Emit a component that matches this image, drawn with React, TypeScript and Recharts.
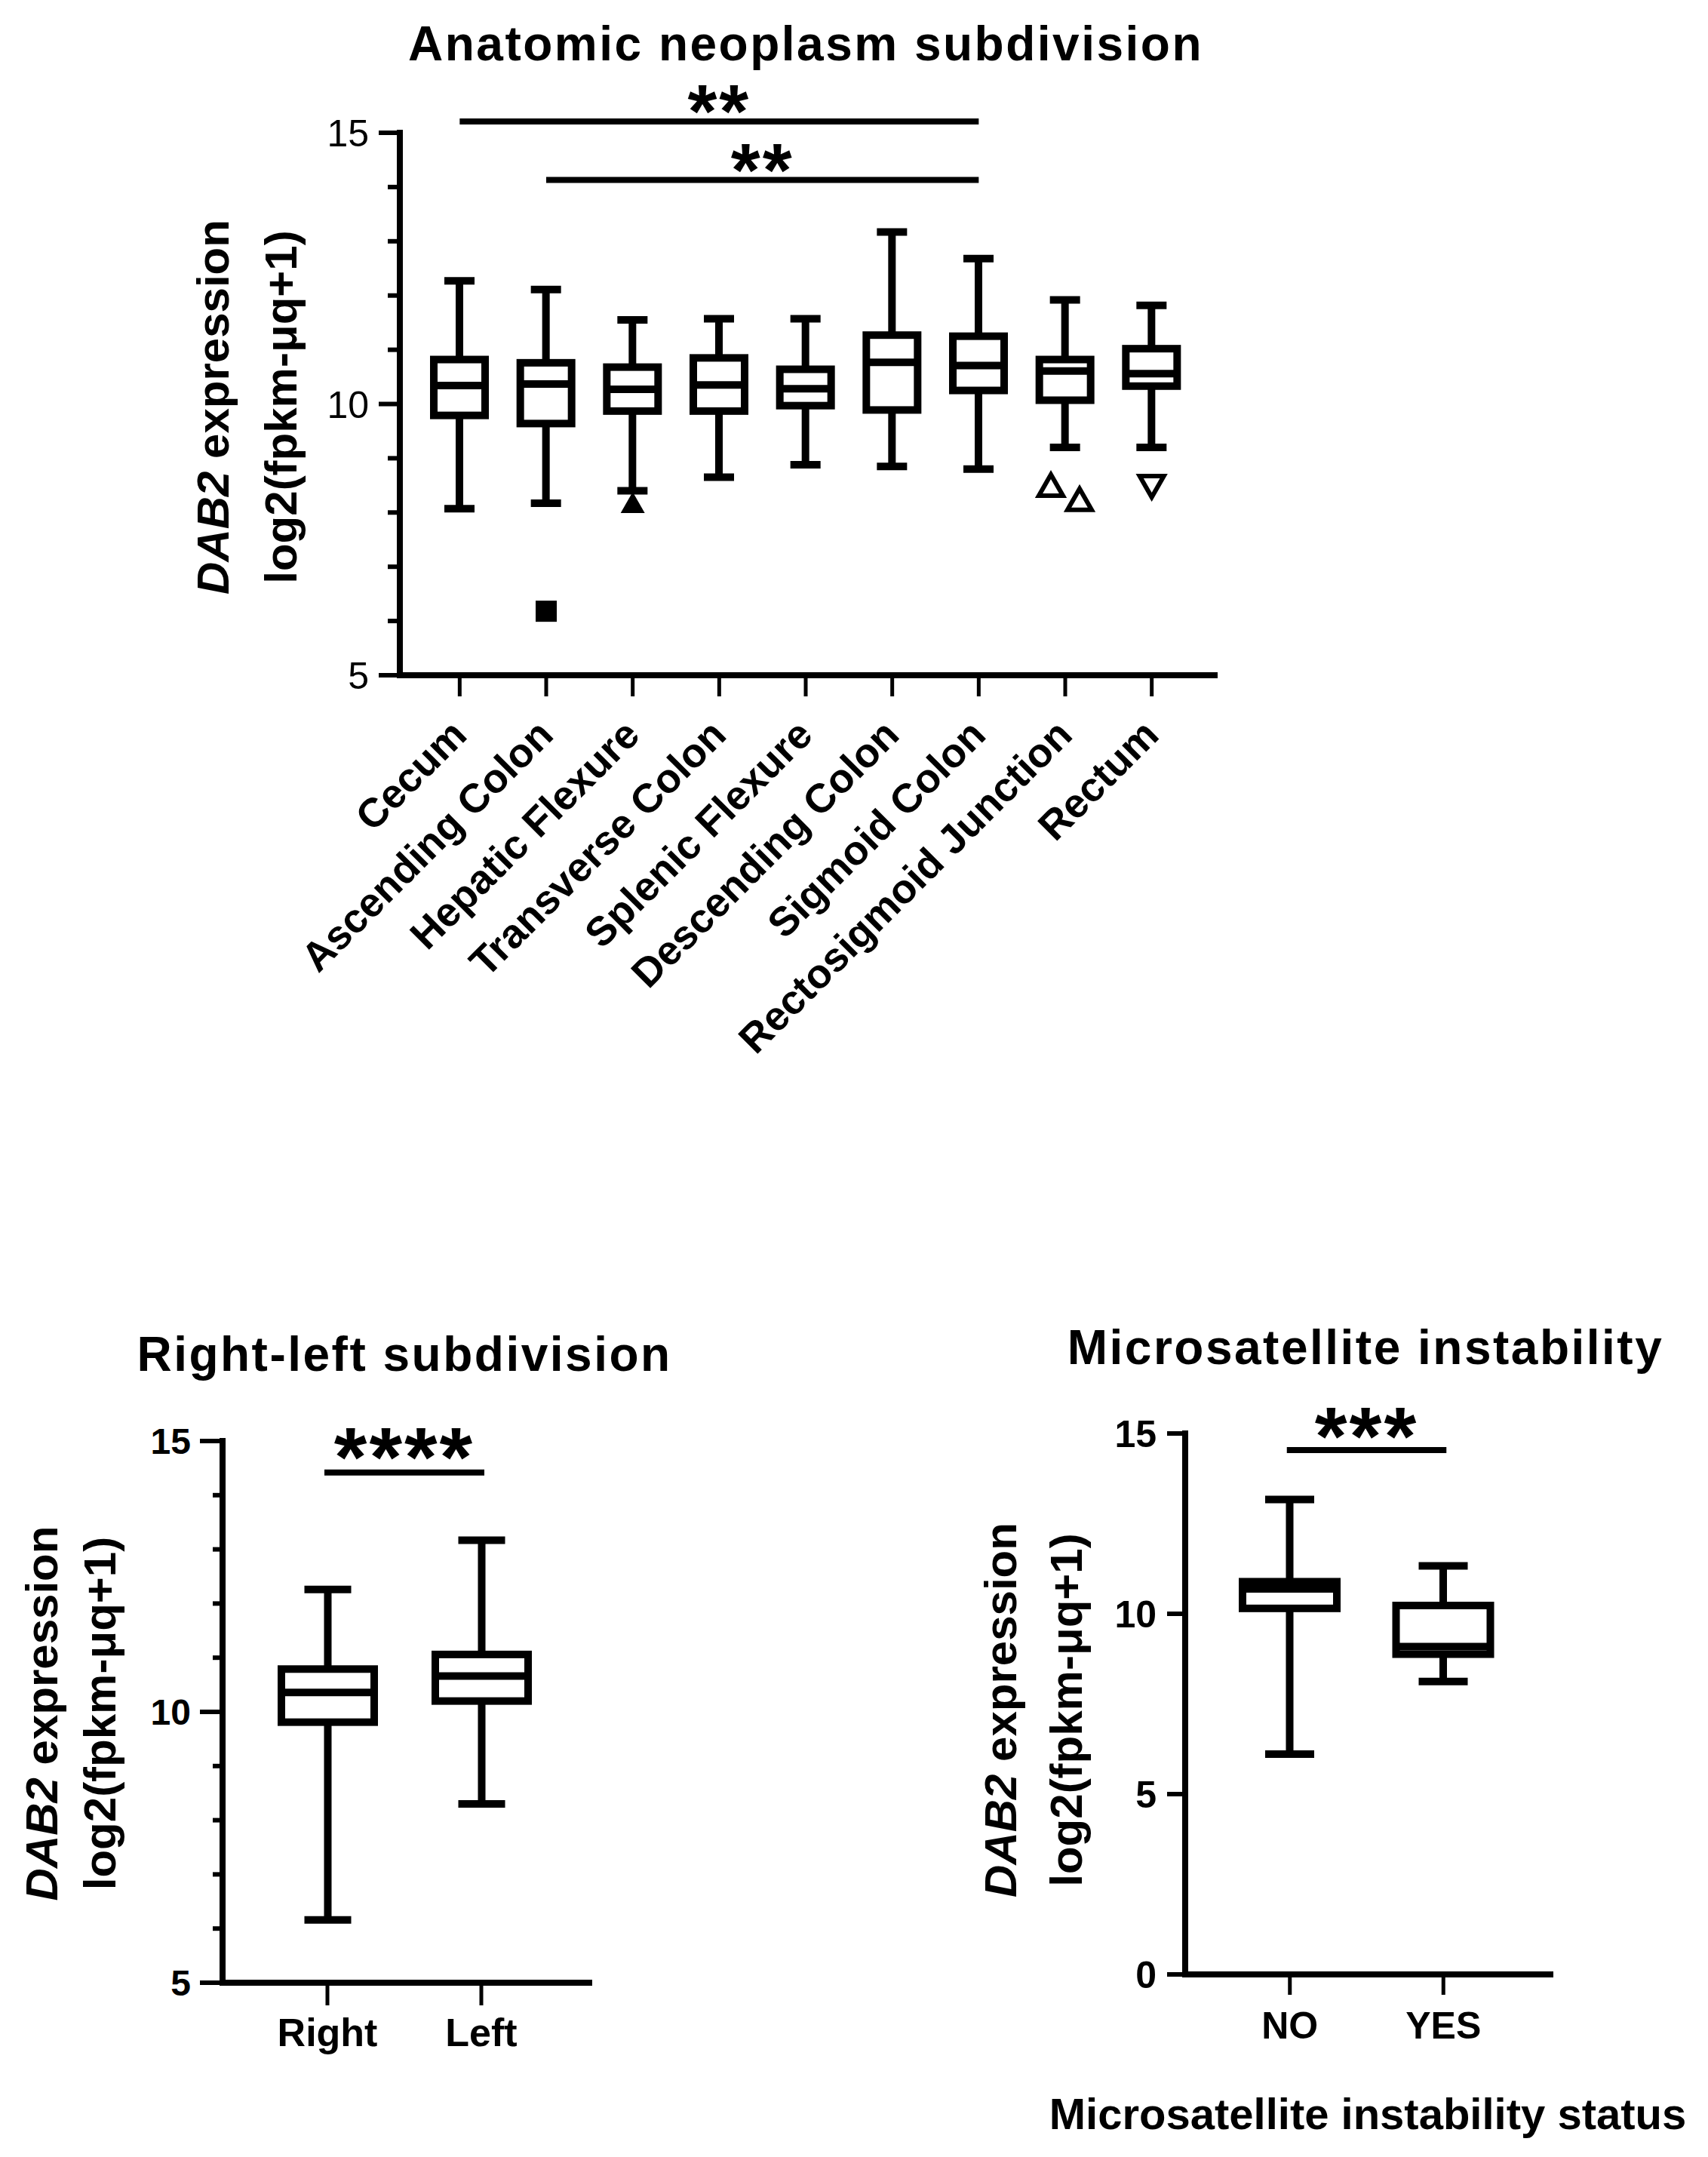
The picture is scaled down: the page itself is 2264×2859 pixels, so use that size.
import React from 'react';
import { ComposedChart, Bar, Scatter, XAxis, YAxis, ReferenceLine } from 'recharts';

const FONT = '"Liberation Sans", Arial, Helvetica, sans-serif';
const INK = '#000000';

// ---------- Anatomic neoplasm subdivision ----------
const siteCategories = [
  'Cecum',
  'Ascending Colon',
  'Hepatic Flexure',
  'Transverse Colon',
  'Splenic Flexure',
  'Descending Colon',
  'Sigmoid Colon',
  'Rectosigmoid Junction',
  'Rectum',
];
const siteMin = [8.07, 8.17, 8.4, 8.65, 8.88, 8.85, 8.8, 9.2, 9.2];
const siteQ1 = [9.79, 9.64, 9.87, 9.87, 9.97, 9.89, 10.25, 10.07, 10.33];
const siteMedian = [10.34, 10.37, 10.27, 10.35, 10.28, 10.77, 10.71, 10.61, 10.56];
const siteQ3 = [10.82, 10.76, 10.68, 10.85, 10.64, 11.27, 11.25, 10.82, 11.02];
const siteMax = [12.27, 12.11, 11.55, 11.57, 11.57, 13.17, 12.68, 11.92, 11.82];
const siteOutlierA = [null, 6.18, 8.17, null, null, null, null, 8.49, 8.49];
const siteOutlierB = [null, null, null, null, null, null, null, 8.23, null];
const siteYTicks = [5, 6, 7, 8, 9, 10, 11, 12, 13, 14, 15];
const siteYLabels = [5, 10, 15];
const siteSignificance = [
  { from: 'Cecum', to: 'Sigmoid Colon', y: 15.21, stars: '**' },
  { from: 'Ascending Colon', to: 'Sigmoid Colon', y: 14.13, stars: '**' },
];

// ---------- Right-left subdivision ----------
const sideCategories = ['Right', 'Left'];
const sideMin = [6.16, 8.3];
const sideQ1 = [9.81, 10.2];
const sideMedian = [10.36, 10.66];
const sideQ3 = [10.79, 11.06];
const sideMax = [12.26, 13.17];
const sideYTicks = [5, 6, 7, 8, 9, 10, 11, 12, 13, 14, 15];
const sideYLabels = [5, 10, 15];
const sideSignificance = [{ from: 'Right', to: 'Left', y: 14.42, stars: '****' }];

// ---------- Microsatellite instability ----------
const msiCategories = ['NO', 'YES'];
const msiMin = [6.11, 8.12];
const msiQ1 = [10.15, 8.88];
const msiMedian = [10.69, 9.09];
const msiQ3 = [10.89, 10.23];
const msiMax = [13.17, 11.33];
const msiYTicks = [0, 5, 10, 15];
const msiYLabels = [0, 5, 10, 15];
const msiSignificance = [{ from: 'NO', to: 'YES', y: 14.54, stars: '***' }];

// marker style per category (GraphPad-like symbols)
const outlierMarker: Record<string, string> = {
  'Ascending Colon': 'square',
  'Hepatic Flexure': 'triangleFilled',
  'Rectosigmoid Junction': 'triangleOpen',
  Rectum: 'triangleDownOpen',
};
const outlierShift: Record<string, number[]> = {
  'Rectosigmoid Junction': [-19, 19],
};

function buildRows(cats: string[], mins: number[], q1s: number[], meds: number[], q3s: number[], maxs: number[], oa?: (number | null)[], ob?: (number | null)[]) {
  return cats.map((cat, i) => ({
    cat,
    min: mins[i],
    q1: q1s[i],
    med: meds[i],
    q3: q3s[i],
    max: maxs[i],
    oa: oa ? oa[i] : null,
    ob: ob ? ob[i] : null,
  }));
}

const siteRows = buildRows(siteCategories, siteMin, siteQ1, siteMedian, siteQ3, siteMax, siteOutlierA, siteOutlierB);
const sideRows = buildRows(sideCategories, sideMin, sideQ1, sideMedian, sideQ3, sideMax);
const msiRows = buildRows(msiCategories, msiMin, msiQ1, msiMedian, msiQ3, msiMax);

const boxRange = (d: any) => [d.min, d.max];

function BoxShape(props: any) {
  const { x, y, width, height, payload, sw, capW } = props;
  if (!payload || x == null || y == null) return null;
  const top = Math.min(y, y + height);
  const bottom = Math.max(y, y + height);
  const span = payload.max - payload.min;
  const ppu = span > 0 ? (bottom - top) / span : 0;
  const py = (v: number) => bottom - (v - payload.min) * ppu;
  const cx = x + width / 2;
  const yq3 = py(payload.q3);
  const yq1 = py(payload.q1);
  const ym = py(payload.med);
  return (
    <g>
      <line x1={cx} x2={cx} y1={top} y2={yq3} stroke={INK} strokeWidth={sw} />
      <line x1={cx} x2={cx} y1={yq1} y2={bottom} stroke={INK} strokeWidth={sw} />
      <line x1={cx - capW / 2} x2={cx + capW / 2} y1={top} y2={top} stroke={INK} strokeWidth={sw} />
      <line x1={cx - capW / 2} x2={cx + capW / 2} y1={bottom} y2={bottom} stroke={INK} strokeWidth={sw} />
      <rect x={x + sw / 2} y={yq3} width={width - sw} height={yq1 - yq3} fill="#ffffff" stroke={INK} strokeWidth={sw} />
      <line x1={x + sw / 2} x2={x + width - sw / 2} y1={ym} y2={ym} stroke={INK} strokeWidth={sw} />
    </g>
  );
}

function OutlierShape(props: any) {
  const { cx, cy, payload, series } = props;
  if (cx == null || cy == null || !isFinite(cx) || !isFinite(cy) || !payload) return <g />;
  const kind = outlierMarker[payload.cat] || 'square';
  const shift = outlierShift[payload.cat] ? outlierShift[payload.cat][series] : 0;
  const px = cx + shift;
  if (kind === 'square') {
    return <rect x={px - 14} y={cy - 14} width={28} height={28} fill={INK} />;
  }
  if (kind === 'triangleFilled') {
    return <path d={`M${px},${cy - 15} L${px + 16},${cy + 13} L${px - 16},${cy + 13} Z`} fill={INK} />;
  }
  if (kind === 'triangleOpen') {
    return (
      <path d={`M${px},${cy - 15} L${px + 16},${cy + 13} L${px - 16},${cy + 13} Z`} fill="#ffffff" stroke={INK} strokeWidth={6} strokeLinejoin="miter" />
    );
  }
  return (
    <path d={`M${px},${cy + 15} L${px + 16},${cy - 13} L${px - 16},${cy - 13} Z`} fill="#ffffff" stroke={INK} strokeWidth={6} strokeLinejoin="miter" />
  );
}

function makeYTick(cfg: { labeled: number[]; majorLen: number; minorLen: number; tickW: number; gap: number; fontSize: number; fontWeight: string }) {
  return function YTick(props: any) {
    const { x, y, payload } = props;
    const v = payload ? payload.value : null;
    const major = cfg.labeled.indexOf(v) >= 0;
    const len = major ? cfg.majorLen : cfg.minorLen;
    return (
      <g>
        <line x1={x - len} x2={x} y1={y} y2={y} stroke={INK} strokeWidth={cfg.tickW} />
        {major ? (
          <text x={x - len - cfg.gap} y={y} dy="0.36em" textAnchor="end" fontSize={cfg.fontSize} fontWeight={cfg.fontWeight} fontFamily={FONT} fill={INK}>
            {v}
          </text>
        ) : null}
      </g>
    );
  };
}

function makeXTick(cfg: { len: number; tickW: number; baseline: number; fontSize: number }) {
  return function XTick(props: any) {
    const { x, y, payload } = props;
    return (
      <g>
        <line x1={x} x2={x} y1={y} y2={y + cfg.len} stroke={INK} strokeWidth={cfg.tickW} />
        <text x={x} y={y + cfg.baseline} textAnchor="middle" fontSize={cfg.fontSize} fontWeight="bold" fontFamily={FONT} fill={INK}>
          {payload ? payload.value : ''}
        </text>
      </g>
    );
  };
}

function SiteTick(props: any) {
  const { x, y, payload } = props;
  return (
    <g>
      <line x1={x} x2={x} y1={y} y2={y + 28} stroke={INK} strokeWidth={5} />
      <text transform={`translate(${x + 12},${y + 82}) rotate(-45)`} textAnchor="end" fontSize={54} fontWeight="bold" fontFamily={FONT} fill={INK}>
        {payload ? payload.value : ''}
      </text>
    </g>
  );
}

function makeYLabel(cfg: { off1: number; off2: number; dy: number; fs: number }) {
  return function YLabel(props: any) {
    const vb = props.viewBox || {};
    const ax = (vb.x || 0) + (vb.width || 0);
    const cy = (vb.y || 0) + (vb.height || 0) / 2 + cfg.dy;
    return (
      <g>
        <text transform={`translate(${ax - cfg.off1},${cy}) rotate(-90)`} textAnchor="middle" fontSize={cfg.fs} fontWeight="bold" fontFamily={FONT} fill={INK}>
          <tspan fontStyle="italic">DAB2</tspan>
          <tspan>{' expression'}</tspan>
        </text>
        <text transform={`translate(${ax - cfg.off2},${cy}) rotate(-90)`} textAnchor="middle" fontSize={cfg.fs} fontWeight="bold" fontFamily={FONT} fill={INK}>
          log2(fpkm-μq+1)
        </text>
      </g>
    );
  };
}

function makeStars(text: string, cfg: { fs: number; rise: number }) {
  return function Stars(props: any) {
    const vb = props.viewBox || {};
    const cx = (vb.x || 0) + (vb.width || 0) / 2;
    const base = (vb.y || 0) - cfg.rise + 0.58 * cfg.fs;
    return (
      <text x={cx} y={base} textAnchor="middle" fontSize={cfg.fs} fontWeight="bold" fontFamily={FONT} fill={INK} letterSpacing={3}>
        {text}
      </text>
    );
  };
}

function MsiXTitle(props: any) {
  const vb = props.viewBox || {};
  const cx = (vb.x || 0) + (vb.width || 0) / 2;
  return (
    <text x={cx} y={(vb.y || 0) + 205} textAnchor="middle" fontSize={58} fontWeight="bold" fontFamily={FONT} fill={INK}>
      Microsatellite instability status
    </text>
  );
}

const axisStyle = { stroke: INK, strokeWidth: 8, strokeLinecap: 'square' as const };

const siteYTick = makeYTick({ labeled: siteYLabels, majorLen: 28, minorLen: 16, tickW: 6, gap: 13, fontSize: 50, fontWeight: 'normal' });
const sideYTick = makeYTick({ labeled: sideYLabels, majorLen: 30, minorLen: 13, tickW: 6, gap: 12, fontSize: 48, fontWeight: 'bold' });
const msiYTick = makeYTick({ labeled: msiYLabels, majorLen: 24, minorLen: 24, tickW: 6, gap: 14, fontSize: 50, fontWeight: 'bold' });
const sideXTick = makeXTick({ len: 30, tickW: 5, baseline: 84, fontSize: 52 });
const msiXTick = makeXTick({ len: 27, tickW: 5, baseline: 85, fontSize: 50 });

const titleStyle = (cx: number, capCenter: number, fs: number): React.CSSProperties => ({
  position: 'absolute',
  left: cx - 700,
  width: 1400,
  top: capCenter - 0.4885 * fs,
  height: fs,
  fontSize: fs,
  lineHeight: `${fs}px`,
  fontWeight: 'bold',
  fontFamily: FONT,
  textAlign: 'center',
  letterSpacing: 2.5,
  color: INK,
  whiteSpace: 'nowrap',
});

export default function App() {
  return (
    <div style={{ position: 'absolute', left: 0, top: 0, width: 2264, height: 2859, background: '#ffffff', overflow: 'hidden' }}>
      <div style={titleStyle(1068, 57, 64)}>Anatomic neoplasm subdivision</div>
      <div style={titleStyle(536, 1794, 64)}>Right-left subdivision</div>
      <div style={titleStyle(1810, 1785, 64)}>Microsatellite instability</div>

      <div style={{ position: 'absolute', left: 0, top: 0 }}>
        <ComposedChart width={1700} height={1450} data={siteRows} margin={{ top: 176, right: 90, bottom: 10, left: 430 }}>
          <XAxis
            dataKey="cat"
            type="category"
            interval={0}
            height={545}
            padding={{ left: 22, right: 26 }}
            tickSize={0}
            tickMargin={0}
            tickLine={false}
            axisLine={axisStyle}
            tick={SiteTick}
          />
          <YAxis
            type="number"
            domain={[5, 15]}
            ticks={siteYTicks}
            interval={0}
            allowDataOverflow
            width={100}
            tickSize={0}
            tickMargin={0}
            tickLine={false}
            axisLine={axisStyle}
            tick={siteYTick}
            label={makeYLabel({ off1: 227, off2: 137, dy: 4, fs: 60 })}
          />
          <Bar dataKey={boxRange} barSize={78} isAnimationActive={false} shape={(p: any) => <BoxShape {...p} sw={10} capW={40} />} />
          <Scatter dataKey="oa" isAnimationActive={false} shape={(p: any) => <OutlierShape {...p} series={0} />} />
          <Scatter dataKey="ob" isAnimationActive={false} shape={(p: any) => <OutlierShape {...p} series={1} />} />
          {siteSignificance.map((s) => (
            <ReferenceLine
              key={s.from + s.to}
              segment={[
                { x: s.from, y: s.y },
                { x: s.to, y: s.y },
              ]}
              stroke={INK}
              strokeWidth={8}
              ifOverflow="visible"
              label={makeStars(s.stars, { fs: 100, rise: 37 })}
            />
          ))}
        </ComposedChart>
      </div>

      <div style={{ position: 'absolute', left: 0, top: 1700 }}>
        <ComposedChart width={900} height={1100} data={sideRows} margin={{ top: 210, right: 119, bottom: 10, left: 195 }}>
          <XAxis
            dataKey="cat"
            type="category"
            interval={0}
            height={162}
            padding={{ left: 37, right: 41 }}
            tickSize={0}
            tickMargin={0}
            tickLine={false}
            axisLine={axisStyle}
            tick={sideXTick}
          />
          <YAxis
            type="number"
            domain={[5, 15]}
            ticks={sideYTicks}
            interval={0}
            allowDataOverflow
            width={100}
            tickSize={0}
            tickMargin={0}
            tickLine={false}
            axisLine={axisStyle}
            tick={sideYTick}
            label={makeYLabel({ off1: 219, off2: 142, dy: 2, fs: 60 })}
          />
          <Bar dataKey={boxRange} barSize={133} isAnimationActive={false} shape={(p: any) => <BoxShape {...p} sw={10} capW={62} />} />
          {sideSignificance.map((s) => (
            <ReferenceLine
              key={s.from + s.to}
              segment={[
                { x: s.from, y: s.y },
                { x: s.to, y: s.y },
              ]}
              stroke={INK}
              strokeWidth={8}
              strokeLinecap="square"
              ifOverflow="visible"
              label={makeStars(s.stars, { fs: 112, rise: 47 })}
            />
          ))}
        </ComposedChart>
      </div>

      <div style={{ position: 'absolute', left: 1200, top: 1700 }}>
        <ComposedChart width={1064} height={1159} data={msiRows} margin={{ top: 200, right: 209, bottom: 10, left: 271 }}>
          <XAxis
            dataKey="cat"
            type="category"
            interval={0}
            height={232}
            padding={{ left: 37, right: 40 }}
            tickSize={0}
            tickMargin={0}
            tickLine={false}
            axisLine={axisStyle}
            tick={msiXTick}
            label={MsiXTitle}
          />
          <YAxis
            type="number"
            domain={[0, 15]}
            ticks={msiYTicks}
            interval={0}
            allowDataOverflow
            width={100}
            tickSize={0}
            tickMargin={0}
            tickLine={false}
            axisLine={axisStyle}
            tick={msiYTick}
            label={makeYLabel({ off1: 224, off2: 137, dy: 8, fs: 60 })}
          />
          <Bar dataKey={boxRange} barSize={135} isAnimationActive={false} shape={(p: any) => <BoxShape {...p} sw={10} capW={65} />} />
          {msiSignificance.map((s) => (
            <ReferenceLine
              key={s.from + s.to}
              segment={[
                { x: s.from, y: s.y },
                { x: s.to, y: s.y },
              ]}
              stroke={INK}
              strokeWidth={8}
              strokeLinecap="square"
              ifOverflow="visible"
              label={makeStars(s.stars, { fs: 110, rise: 45 })}
            />
          ))}
        </ComposedChart>
      </div>
    </div>
  );
}
